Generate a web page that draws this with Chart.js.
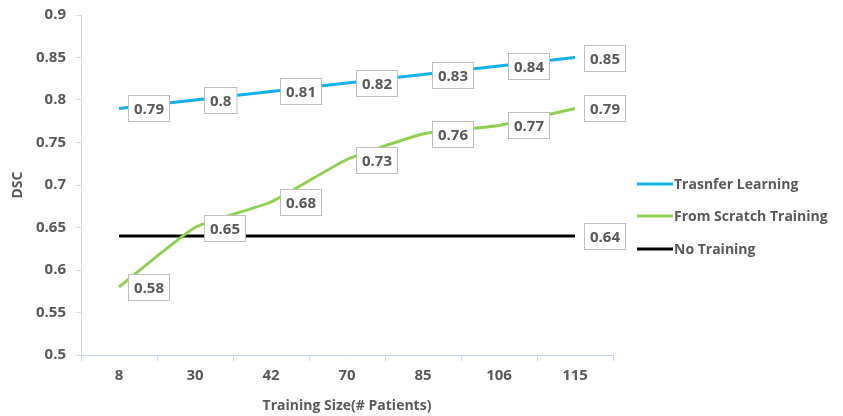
<!DOCTYPE html>
<html>
<head>
<meta charset="utf-8">
<script src="https://cdn.jsdelivr.net/npm/chart.js@4/dist/chart.umd.min.js"></script>
<style>
  html, body { margin: 0; padding: 0; background: #fff; }
  #wrap { width: 843px; height: 416px; position: relative; }
</style>
</head>
<body>
<div id="wrap"><canvas id="c" width="843" height="416"></canvas></div>
<script>
// Training set sizes (number of patients)
const categories = ['8', '30', '42', '70', '85', '106', '115'];

// Dice similarity coefficient per training size
const transferLearning = [0.79, 0.80, 0.81, 0.82, 0.83, 0.84, 0.85];
const fromScratch      = [0.58, 0.65, 0.68, 0.73, 0.76, 0.77, 0.79];
const noTraining       = [0.64, 0.64, 0.64, 0.64, 0.64, 0.64, 0.64];

const seriesNames = ['Trasnfer Learning', 'From Scratch Training', 'No Training'];
const seriesColors = ['#0fb0ee', '#8fd14f', '#000000'];

// Which points carry a value box
const labelledPoints = [
  [0, 1, 2, 3, 4, 5, 6],
  [0, 1, 2, 3, 4, 5, 6],
  [6]
];

const yTicks = [0.5, 0.55, 0.6, 0.65, 0.7, 0.75, 0.8, 0.85, 0.9];

const TEXT = '#595959';
const FONT = '"Open Sans", Lato, "Liberation Sans", sans-serif';

// Boxed value labels to the right of each point
const valueBoxes = {
  id: 'valueBoxes',
  afterDatasetsDraw(chart) {
    const ctx = chart.ctx;
    ctx.save();
    ctx.font = 'bold 15px ' + FONT;
    ctx.textBaseline = 'middle';
    ctx.textAlign = 'left';
    chart.data.datasets.forEach((ds, di) => {
      const meta = chart.getDatasetMeta(di);
      labelledPoints[di].forEach(i => {
        const pt = meta.data[i];
        const txt = String(ds.data[i]);
        const w = ctx.measureText(txt).width + 11;
        const h = 26;
        const x = Math.round(pt.x + 9) + 0.5;
        const y = Math.round(pt.y - h / 2) + 0.5;
        ctx.fillStyle = '#ffffff';
        ctx.fillRect(x, y, w, h);
        ctx.strokeStyle = '#bfbfbf';
        ctx.lineWidth = 1;
        ctx.strokeRect(x, y, w, h);
        ctx.fillStyle = TEXT;
        ctx.fillText(txt, x + 5.5, y + h / 2 + 1);
      });
    });
    ctx.restore();
  }
};

// Legend column at the right of the plot
const sideLegend = {
  id: 'sideLegend',
  afterDraw(chart) {
    const ctx = chart.ctx;
    ctx.save();
    ctx.font = 'bold 14px ' + FONT;
    ctx.textBaseline = 'middle';
    ctx.textAlign = 'left';
    const x0 = 637, rowY = [184, 216, 249];
    chart.data.datasets.forEach((ds, di) => {
      const y = rowY[di];
      ctx.strokeStyle = ds.borderColor;
      ctx.lineWidth = 3;
      ctx.beginPath();
      ctx.moveTo(x0, y);
      ctx.lineTo(x0 + 36, y);
      ctx.stroke();
      ctx.fillStyle = TEXT;
      ctx.fillText(ds.label, x0 + 37, y + 1);
    });
    ctx.restore();
  }
};

new Chart(document.getElementById('c'), {
  type: 'line',
  data: {
    labels: categories,
    datasets: [transferLearning, fromScratch, noTraining].map((vals, i) => ({
      label: seriesNames[i],
      data: vals,
      borderColor: seriesColors[i],
      backgroundColor: seriesColors[i],
      borderWidth: 3,
      pointRadius: 0,
      tension: i === 2 ? 0 : 0.15,
      fill: false
    }))
  },
  options: {
    responsive: false,
    animation: false,
    layout: { padding: { top: 15, right: 230, bottom: 0, left: 0 } },
    plugins: {
      legend: { display: false },
      tooltip: { enabled: false }
    },
    scales: {
      x: {
        offset: true,
        grid: {
          display: true,
          drawOnChartArea: false,
          offset: true,
          tickLength: 6,
          color: '#c9d7ec'
        },
        border: { color: '#c9d7ec', width: 1 },
        ticks: {
          color: TEXT,
          font: { family: FONT, size: 15, weight: 'bold' },
          padding: 6
        },
        title: {
          display: true,
          text: 'Training Size(# Patients)',
          color: TEXT,
          font: { family: FONT, size: 14, weight: 'bold' },
          padding: { top: 4, bottom: 2 }
        },
        afterFit(scale) { scale.height = 61; }
      },
      y: {
        min: 0.5,
        max: 0.9,
        afterBuildTicks(scale) { scale.ticks = yTicks.map(v => ({ value: v })); },
        grid: {
          display: true,
          drawOnChartArea: false,
          tickLength: 5,
          color: '#d9d9d9'
        },
        border: { color: '#d9d9d9', width: 1 },
        ticks: {
          color: TEXT,
          font: { family: FONT, size: 15, weight: 'bold' },
          padding: 10,
          callback: v => String(Math.round(v * 100) / 100)
        },
        title: {
          display: true,
          text: 'DSC',
          color: TEXT,
          font: { family: FONT, size: 14, weight: 'bold' },
          padding: { top: 10, bottom: 0 }
        },
        afterFit(scale) {
          scale.width = 81;
          scale.paddingTop = 0;
          scale.paddingBottom = 0;
        }
      }
    }
  },
  plugins: [valueBoxes, sideLegend]
});
</script>
</body>
</html>
